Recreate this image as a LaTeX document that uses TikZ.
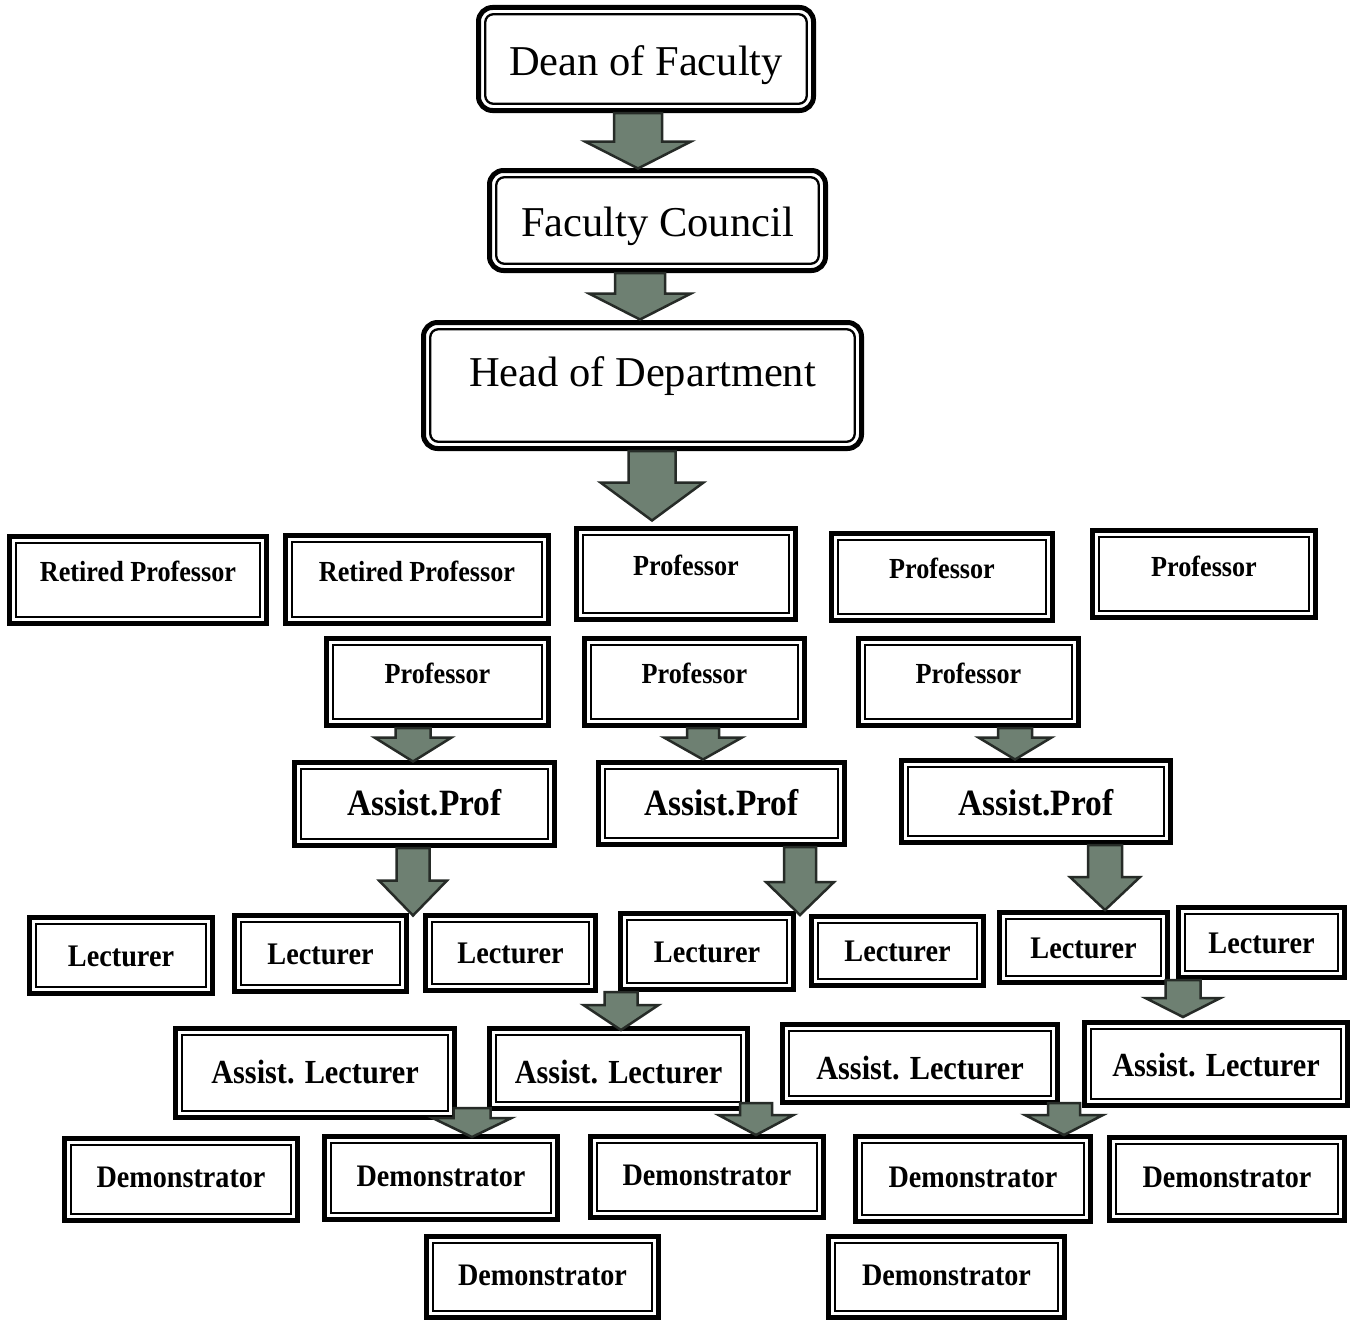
\documentclass[tikz,border=0pt]{standalone}
\usepackage{fontspec}
\setmainfont{Liberation Serif}
\newfontfamily\condbold{Liberation Serif}[FakeStretch=0.9]
\usetikzlibrary{calc}
\definecolor{arrowfill}{HTML}{6E8072}
\definecolor{arrowedge}{HTML}{262B27}
\tikzset{
  dbox/.style={draw=black, line width=5pt, fill=white, inner sep=0pt, outer sep=0pt,
    path picture={\draw[line width=2.3pt, sharp corners]
      ([shift={(6.75pt,-6.75pt)}]path picture bounding box.north west) rectangle
      ([shift={(-6.75pt,6.75pt)}]path picture bounding box.south east);}},
  rbox/.style={draw=black, line width=5pt, fill=white, inner sep=0pt, outer sep=0pt, rounded corners=14pt,
    path picture={\draw[line width=2.3pt, rounded corners=8pt]
      ([shift={(6.75pt,-6.75pt)}]path picture bounding box.north west) rectangle
      ([shift={(-6.75pt,6.75pt)}]path picture bounding box.south east);}},
  ft/.style={font=\fontsize{42.5}{48}\selectfont, text height=28.1pt, text depth=0pt, inner sep=0pt},
  fprof/.style={font=\condbold\bfseries\fontsize{29.1}{34}\selectfont, text height=19.7pt, text depth=0pt, inner sep=0pt},
  fap/.style={font=\condbold\bfseries\fontsize{37.1}{44}\selectfont, text height=25.1pt, text depth=0pt, inner sep=0pt},
  flec/.style={font=\condbold\bfseries\fontsize{31.4}{37}\selectfont, text height=21.2pt, text depth=0pt, inner sep=0pt},
  fal/.style={font=\condbold\bfseries\fontsize{33.7}{40}\selectfont, text height=22.8pt, text depth=0pt, inner sep=0pt},
  fdem/.style={font=\condbold\bfseries\fontsize{31.3}{37}\selectfont, text height=21.2pt, text depth=0pt, inner sep=0pt},
  arrowst/.style={draw=arrowedge, fill=arrowfill, line width=2.5pt, line join=miter}
}
\newcommand\barrow[5]{%
  \draw[arrowst] let \p1=(#1), \p2=(#2) in
    (\x1-#3,\y1) -- (\x1+#3,\y1) -- (\x1+#3,\y2+#5) -- (\x1+#4,\y2+#5) --
    (\x1,\y2) -- (\x1-#4,\y2+#5) -- (\x1-#3,\y2+#5) -- cycle;}
\begin{document}
\begin{tikzpicture}[x=1pt,y=-1pt]
\fill[white] (0,0) rectangle (1354,1322);
\useasboundingbox (0,0) rectangle (1354,1322);

% top
\node[rbox, minimum width=335, minimum height=103, label={[ft, yshift=-2pt]center:Dean of Faculty}] (dean) at (646,59) {};
\node[rbox, minimum width=336, minimum height=100, label={[ft, yshift=-2pt]center:Faculty Council}] (council) at (657.5,220.5) {};
\node[rbox, minimum width=438, minimum height=126, label={[ft, yshift=13pt]center:Head of Department}] (hod) at (642.5,385.5) {};

% professor row 1
\node[dbox, minimum width=257, minimum height=87, label={[fprof, yshift=8pt]center:Retired Professor}] (rp1) at (138,580) {};
\node[dbox, minimum width=263, minimum height=88, label={[fprof, yshift=7.5pt]center:Retired Professor}] (rp2) at (417,579.5) {};
\node[dbox, minimum width=219, minimum height=91, label={[fprof, yshift=8pt]center:Professor}] (pa) at (686,574) {};
\node[dbox, minimum width=221, minimum height=87, label={[fprof, yshift=8pt]center:Professor}] (pb) at (942,577) {};
\node[dbox, minimum width=223, minimum height=87, label={[fprof, yshift=7pt]center:Professor}] (pc) at (1204,574) {};

% professor row 2
\node[dbox, minimum width=222, minimum height=87, label={[fprof, yshift=8pt]center:Professor}] (p1) at (437.5,682) {};
\node[dbox, minimum width=220, minimum height=87, label={[fprof, yshift=8pt]center:Professor}] (p2) at (694.5,682) {};
\node[dbox, minimum width=220, minimum height=87, label={[fprof, yshift=8pt]center:Professor}] (p3) at (968.5,682) {};

% assist prof
\node[dbox, minimum width=260, minimum height=83, label={[fap, yshift=1.5pt]center:Assist.Prof}] (ap1) at (424.5,804) {};
\node[dbox, minimum width=246, minimum height=82, label={[fap, yshift=0.5pt]center:Assist.Prof}] (ap2) at (721.5,803.5) {};
\node[dbox, minimum width=269, minimum height=82, label={[fap, yshift=-1.5pt]center:Assist.Prof}] (ap3) at (1036,801.5) {};

% lecturers
\node[dbox, minimum width=183, minimum height=76, label={[flec]center:Lecturer}] (l1) at (121,955.5) {};
\node[dbox, minimum width=172, minimum height=76, label={[flec]center:Lecturer}] (l2) at (320.5,953.5) {};
\node[dbox, minimum width=170, minimum height=75, label={[flec]center:Lecturer}] (l3) at (510.5,953) {};
\node[dbox, minimum width=173, minimum height=76, label={[flec]center:Lecturer}] (l4) at (707,951.5) {};
\node[dbox, minimum width=172, minimum height=69, label={[flec]center:Lecturer}] (l5) at (897.5,951) {};
\node[dbox, minimum width=168, minimum height=70, label={[flec]center:Lecturer}] (l6) at (1083.5,947.5) {};
\node[dbox, minimum width=166, minimum height=70, label={[flec]center:Lecturer}] (l7) at (1261.5,942.5) {};

% assist lecturers
\node[dbox, minimum width=279, minimum height=89, label={[fal, yshift=1pt]center:Assist. Lecturer}] (al1) at (315,1073) {};
\node[dbox, minimum width=258, minimum height=80, label={[fal, yshift=-3.5pt]center:Assist. Lecturer}] (al2) at (618.5,1068.5) {};
\node[dbox, minimum width=275, minimum height=78, label={[fal, yshift=-4.5pt]center:Assist. Lecturer}] (al3) at (920,1063.5) {};
\node[dbox, minimum width=263, minimum height=83, label={[fal, yshift=-1pt]center:Assist. Lecturer}] (al4) at (1216,1064) {};

% demonstrators
\node[dbox, minimum width=233, minimum height=82, label={[fdem, yshift=2.5pt]center:Demonstrator}] (d1) at (181,1179.5) {};
\node[dbox, minimum width=233, minimum height=83, label={[fdem, yshift=2pt]center:Demonstrator}] (d2) at (441,1178) {};
\node[dbox, minimum width=233, minimum height=81, label={[fdem, yshift=2pt]center:Demonstrator}] (d3) at (707,1177) {};
\node[dbox, minimum width=235, minimum height=85, label={[fdem, yshift=2pt]center:Demonstrator}] (d4) at (973,1179) {};
\node[dbox, minimum width=235, minimum height=83, label={[fdem, yshift=2pt]center:Demonstrator}] (d5) at (1227,1179) {};
\node[dbox, minimum width=232, minimum height=81, label={[fdem, yshift=2pt]center:Demonstrator}] (d6) at (542.5,1277) {};
\node[dbox, minimum width=236, minimum height=81, label={[fdem, yshift=2pt]center:Demonstrator}] (d7) at (946.5,1277) {};

% block arrows
\barrow{$(dean.south)+(-8,2.5)$}{$(council.north)+(0,-2)$}{24pt}{53pt}{27pt}
\barrow{$(council.south)+(-17.5,2.5)$}{$(hod.north)+(0,-3)$}{25pt}{51pt}{26pt}
\barrow{$(hod.south)+(9.5,2.5)$}{$(pa.north)+(0,-8)$}{23.5pt}{51.5pt}{38pt}
\barrow{$(p1.south)+(-24.5,2.5)$}{$(ap1.north)+(0,-1)$}{17.5pt}{38.5pt}{24pt}
\barrow{$(p2.south)+(8.5,2.5)$}{$(ap2.north)+(0,-3)$}{16pt}{39pt}{22pt}
\barrow{$(p3.south)+(46.5,2.5)$}{$(ap3.north)+(0,-1)$}{17pt}{36.5pt}{22pt}
\barrow{$(ap1.south)+(-11.5,2.5)$}{$(l3.north)+(0,0)$}{16.5pt}{34pt}{35pt}
\barrow{$(ap2.south)+(78.5,2.5)$}{$(l4.north)+(0,1.5)$}{16pt}{34pt}{33pt}
\barrow{$(ap3.south)+(69,2.5)$}{$(l6.north)+(0,-2.5)$}{17pt}{35pt}{33pt}
\barrow{$(l4.south)+(-86,2.5)$}{$(al2.north)+(0,1.5)$}{16.5pt}{37.5pt}{25pt}
\barrow{$(l7.south)+(-78.5,2.5)$}{$(al4.north)+(0,-5.5)$}{17.5pt}{37.5pt}{19pt}
\barrow{$(al1.south)+(157,-9.5)$}{$(d2.north)+(0,0.5)$}{18.5pt}{39.5pt}{19pt}
\barrow{$(al2.south)+(137.5,-5.5)$}{$(d3.north)+(0,-1.5)$}{16pt}{37.5pt}{20pt}
\barrow{$(al3.south)+(144,0.5)$}{$(d4.north)+(0,-1.5)$}{16pt}{39pt}{20pt}
\end{tikzpicture}
\end{document}
